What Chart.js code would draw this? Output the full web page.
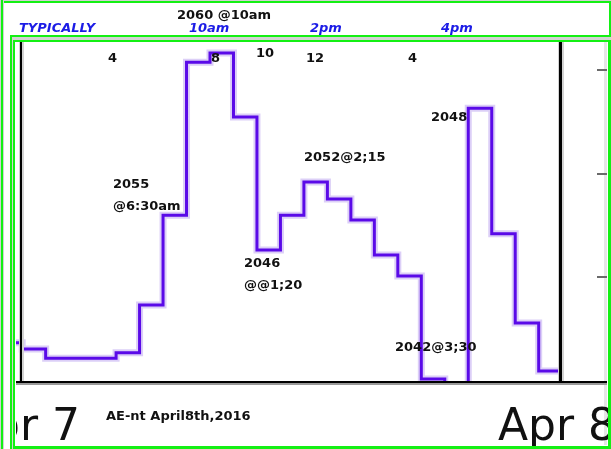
<!DOCTYPE html>
<html>
<head>
<meta charset="utf-8">
<script src="https://cdn.jsdelivr.net/npm/chart.js@4.4.0/dist/chart.umd.min.js"></script>
<style>
  html, body { margin: 0; padding: 0; background: #fff; }
  #wrap { position: relative; width: 611px; height: 449px; overflow: hidden; }
  #chart { position: absolute; left: 0; top: 0; }
  .lbl { position: absolute; white-space: nowrap; font: bold 13px "DejaVu Sans", sans-serif; line-height: 16px; color: #111; }
  .hdr { color: #1c1ce6; font-style: italic; }
  #dates { position: absolute; left: 16px; top: 386px; width: 592px; height: 60px; overflow: hidden; }
  .big { position: absolute; white-space: nowrap; font: 44px "DejaVu Sans", sans-serif; line-height: 44px; color: #111; }
</style>
</head>
<body>
<div id="wrap">
  <canvas id="chart" width="611" height="449"></canvas>
  <div id="dates"></div>
</div>
<script>
// one slot per step, level is held for the whole slot
const slots = [-2, -1, 0, 1, 2, 3, 4, 5, 6, 7, 8, 9, 10, 11, 12, 13, 14, 15, 16, 17, 18, 19, 20, 21, 22];
const level = [9.2, 7.7, 5.5, 5.5, 5.5, 6.8, 18.3, 40.0, 76.9, 79.1, 63.7, 31.6, 40.0, 48.0, 43.9, 38.8, 30.4, 25.3, 0.5, -1.5, 65.8, 35.5, 14.0, 2.4, 2.4];
const rightTicks = [25, 50, 75];

const headerText = ["TYPICALLY", "10am", "2pm", "4pm"];
const topNumbers = ["4", "8", "10", "12", "4"];
const notes = ["2060 @10am", "2055", "@6:30am", "2046", "@@1;20", "2052@2;15", "2048", "2042@3;30", "AE-nt April8th,2016"];
const dateLabels = ["Apr 7", "Apr 8"];

// frame, borders and right side ticks
const frame = {
  id: "frame",
  afterDraw(chart) {
    const { ctx, chartArea: a, scales } = chart;
    const W = chart.width, H = chart.height;
    const box = (x, y, w, h, c) => { ctx.fillStyle = c; ctx.fillRect(x, y, w, h); };
    const green = "#14f014", gray = "#d2d2d2";
    ctx.save();
    // outer + header box
    box(0, 0, W, 1, gray); box(0, 1, W, 2, green);
    box(0, 0, 1, H, gray); box(1, 0, 2, H, green); box(3, 0, 1, H, gray);
    box(609, 1, 2, 36, green);
    box(10, 35, W - 10, 2, green);
    box(12, 37, W - 12, 3, gray);
    box(13, 40, W - 13, 2, green);
    box(10, 35, 2, H - 35, green); box(12, 37, 1, H - 37, gray); box(13, 40, 2, H - 40, green);
    box(604, 42, 3, H - 46, "#e6e6e6"); box(608, 40, 3, H - 40, green);
    box(14, 446, W - 14, 3, green);
    // plot frame
    const top = 42;
    box(a.left - 2, top, 1, a.bottom - top, gray);
    box(a.left - 1, top, 2, a.bottom - top, "#000");
    box(a.left + 1, top, 2, a.bottom - top, gray);
    box(a.right - 3, top, 1, a.bottom - top, gray);
    box(a.right - 2, top, 3, a.bottom - top, "#000");
    box(a.right + 1, top, 2, a.bottom - top, gray);
    box(16, a.bottom, 591, 2, "#000");
    box(16, a.bottom + 2, 591, 2, "#9a9a9a");
    rightTicks.forEach((v) => {
      const y = Math.round(scales.y.getPixelForValue(v));
      box(597, y - 1, 10, 2, "#6a6a6a");
    });
    ctx.restore();
  }
};

const pts = slots.map((s, i) => ({ x: s, y: level[i] }));
const clipBox = { left: 5, top: 0, right: 0, bottom: 0 };

new Chart(document.getElementById("chart"), {
  type: "line",
  data: {
    datasets: [
      {
        data: pts,
        borderColor: "#5a0ae8",
        borderWidth: 3,
        stepped: true,
        pointRadius: 0,
        borderJoinStyle: "miter",
        clip: clipBox,
        order: 0
      },
      {
        data: pts,
        borderColor: "#dccff7",
        borderWidth: 7,
        stepped: true,
        pointRadius: 0,
        borderJoinStyle: "miter",
        clip: clipBox,
        order: 1
      }
    ]
  },
  options: {
    responsive: false,
    animation: false,
    layout: { padding: { left: 21, right: 50, top: 41, bottom: 68 } },
    plugins: { legend: { display: false }, tooltip: { enabled: false } },
    scales: {
      x: { type: "linear", min: -1.05, max: 21.95, display: false },
      y: { min: 0, max: 82, display: false }
    }
  },
  plugins: [frame]
});

// text
const wrap = document.getElementById("wrap");
function addLabel(parent, text, x, cy, cls) {
  const d = document.createElement("div");
  d.className = cls;
  d.textContent = text;
  d.style.left = x + "px";
  d.style.top = (cy - 8) + "px";
  parent.appendChild(d);
}
const headerPos = [[19, 28], [189, 28], [310, 28], [441, 28]];
headerText.forEach((t, i) => addLabel(wrap, t, headerPos[i][0], headerPos[i][1], "lbl hdr"));
const numPos = [[108, 58], [211, 58], [256, 53], [306, 58], [408, 58]];
topNumbers.forEach((t, i) => addLabel(wrap, t, numPos[i][0], numPos[i][1], "lbl"));
const notePos = [[177, 15], [113, 184], [113, 206], [244, 263], [244, 285], [304, 157], [431, 117], [395, 347], [106, 416]];
notes.forEach((t, i) => addLabel(wrap, t, notePos[i][0], notePos[i][1], "lbl"));

const dates = document.getElementById("dates");
const datePos = [-54, 482];
dateLabels.forEach((t, i) => {
  const d = document.createElement("div");
  d.className = "big";
  d.textContent = t;
  d.style.left = datePos[i] + "px";
  d.style.top = "17px";
  dates.appendChild(d);
});
</script>
</body>
</html>
